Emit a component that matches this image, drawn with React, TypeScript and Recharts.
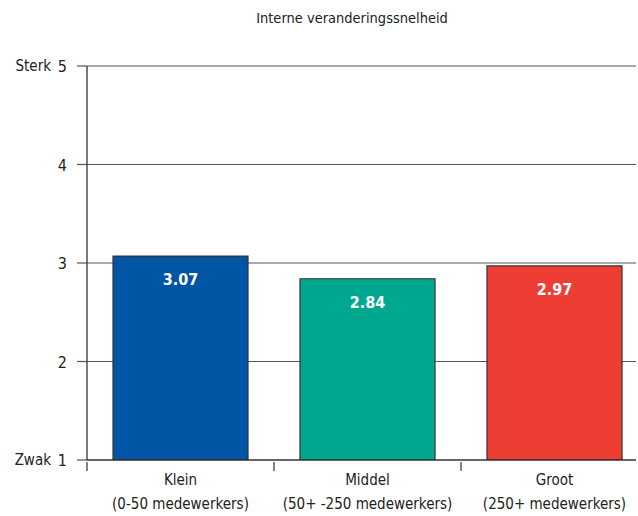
import React from "react";
import { BarChart, Bar, XAxis, YAxis, CartesianGrid, Cell, LabelList } from "recharts";

const categories = ["Klein", "Middel", "Groot"];
const subLabels = ["(0-50 medewerkers)", "(50+ -250 medewerkers)", "(250+ medewerkers)"];
const values = [3.07, 2.84, 2.97];
const colors = ["#0055a4", "#00a88f", "#ee3d33"];
const yTicks = [1, 2, 3, 4, 5];
const yWords: Record<number, string> = { 5: "Sterk", 1: "Zwak" };
const title = "Interne veranderingssnelheid";

const data = categories.map((c, i) => ({ name: c, sub: subLabels[i], value: values[i] }));

const FONT = "'Liberation Sans Narrow', 'DejaVu Sans Condensed', sans-serif";

const YTick = (props: any) => {
  const { x, y, payload } = props;
  const word = yWords[payload.value];
  return (
    <g>
      <text x={x} y={y} dy={6} textAnchor="end" fontSize={16} fill="#222" fontFamily={FONT}>
        {payload.value}
      </text>
      {word && (
        <text x={x - 16} y={y} dy={5} textAnchor="end" fontSize={15} fill="#222" fontFamily={FONT}>
          {word}
        </text>
      )}
    </g>
  );
};

const XTick = (props: any) => {
  const { x, y, payload, index } = props;
  const half = payload && payload.offset ? payload.offset : 93.5;
  const d = data[index];
  return (
    <g>
      <line x1={x - half} x2={x - half} y1={y - 8} y2={y + 1} stroke="#333" strokeWidth={1.2} />
      <text x={x} y={y} dy={15} textAnchor="middle" fontSize={15} fill="#222" fontFamily={FONT}>
        {d ? d.name : payload.value}
      </text>
      <text x={x} y={y} dy={39} textAnchor="middle" fontSize={15} fill="#222" fontFamily={FONT}>
        {d ? d.sub : ""}
      </text>
    </g>
  );
};

export default function App() {
  return (
    <div style={{ position: "absolute", left: 0, top: 0, width: 638, height: 516, background: "#fff", overflow: "hidden" }}>
      <svg width={638} height={40} style={{ position: "absolute", left: 0, top: 0 }}>
        <text x={352} y={23} textAnchor="middle" fontSize={14.5} fill="#222" fontFamily={FONT}>
          {title}
        </text>
      </svg>
      <div style={{ position: "absolute", left: 0, top: 0 }}>
        <BarChart
          width={638}
          height={516}
          data={data}
          margin={{ top: 66, right: 2, left: 0, bottom: 0 }}
          barCategoryGap={26}
        >
          <CartesianGrid horizontal={true} vertical={false} stroke="#555" strokeWidth={1.2} />
          <XAxis
            dataKey="name"
            type="category"
            height={56}
            padding={{ left: 0, right: -12 }}
            axisLine={{ stroke: "#222", strokeWidth: 1.2 }}
            tickLine={false}
            tickSize={8}
            tick={<XTick />}
            interval={0}
          />
          <YAxis
            type="number"
            domain={[1, 5]}
            ticks={yTicks}
            width={87}
            axisLine={{ stroke: "#222", strokeWidth: 1.2 }}
            tickLine={{ stroke: "#555", strokeWidth: 1.2 }}
            tickSize={10}
            tickMargin={10}
            tick={<YTick />}
            allowDataOverflow={true}
          />
          <Bar dataKey="value" isAnimationActive={false} stroke="#333" strokeWidth={1.2}>
            {data.map((d, i) => (
              <Cell key={d.name} fill={colors[i]} />
            ))}
            <LabelList
              dataKey="value"
              position="insideTop"
              offset={18}
              fill="#fff"
              fontSize={16}
              fontWeight="bold"
              fontFamily={FONT}
              formatter={(v: any) => Number(v).toFixed(2)}
            />
          </Bar>
        </BarChart>
      </div>
    </div>
  );
}
